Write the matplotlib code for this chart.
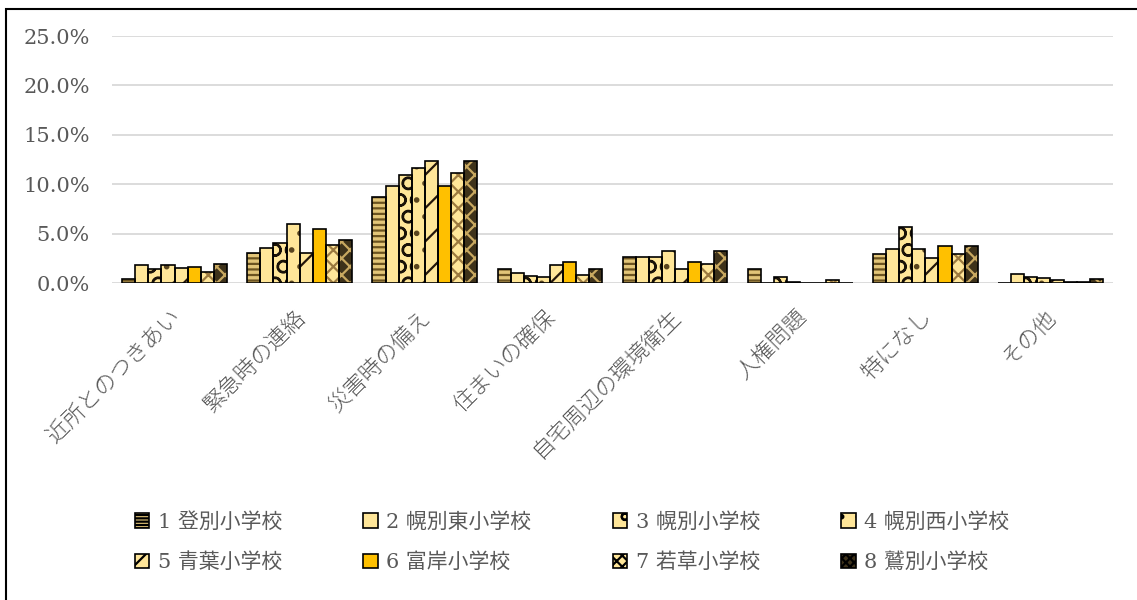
import matplotlib
matplotlib.use("Agg")
import matplotlib.pyplot as plt
import numpy as np
from matplotlib.patches import Rectangle, Patch

categories = ["近所とのつきあい", "緊急時の連絡", "災害時の備え", "住まいの確保",
              "自宅周辺の環境衛生", "人権問題", "特になし", "その他"]
schools = ["1 登別小学校", "2 幌別東小学校", "3 幌別小学校", "4 幌別西小学校",
           "5 青葉小学校", "6 富岸小学校", "7 若草小学校", "8 鷲別小学校"]

s1 = [0.4, 3.1, 8.7, 1.4, 2.7, 1.4, 3.0, 0.0]
s2 = [1.9, 3.6, 9.8, 1.0, 2.7, 0.0, 3.5, 0.9]
s3 = [1.4, 4.1, 10.9, 0.7, 2.7, 0.6, 5.7, 0.6]
s4 = [1.9, 6.0, 11.7, 0.6, 3.3, 0.1, 3.5, 0.5]
s5 = [1.5, 3.1, 12.4, 1.9, 1.4, 0.0, 2.6, 0.3]
s6 = [1.6, 5.5, 9.8, 2.2, 2.2, 0.0, 3.8, 0.1]
s7 = [1.1, 3.9, 11.1, 0.8, 2.0, 0.3, 3.0, 0.1]
s8 = [2.0, 4.4, 12.4, 1.4, 3.3, 0.0, 3.8, 0.4]
series = [s1, s2, s3, s4, s5, s6, s7, s8]
yticks = [0, 5, 10, 15, 20, 25]
ytick_labels = ["0.0%", "5.0%", "10.0%", "15.0%", "20.0%", "25.0%"]

styles = [
    dict(face="#E2C578", hatchc="#6B5320", hatch="---"),
    dict(face="#FFE699", hatchc="#FFE699", hatch=None),
    dict(face="#FFE699", hatchc="#1a1208", hatch="O"),
    dict(face="#FFE699", hatchc="#5a4520", hatch="."),
    dict(face="#FFE699", hatchc="#24160a", hatch="/"),
    dict(face="#FFC000", hatchc="#FFC000", hatch=None),
    dict(face="#FFE699", hatchc="#9C7A40", hatch="xx"),
    dict(face="#3E321A", hatchc="#C8A860", hatch="xx"),
]
legend_hatches = ["-----", None, "o", ".", "//", None, "xxx", "xxxx"]

plt.rcParams['hatch.linewidth'] = 1.6
fig = plt.figure(figsize=(11.37, 6.0), dpi=100)
ax = fig.add_axes([112/1137, 1-283.3/600, (1113-112)/1137, (283.3-36)/600])

x = np.arange(len(categories))
w = 0.1047
n = len(series)
for i, (vals, st) in enumerate(zip(series, styles)):
    pos = x + (i - (n-1)/2) * w
    ax.bar(pos, vals, width=w, color=st["face"], edgecolor=st["hatchc"],
           hatch=st["hatch"], linewidth=0, zorder=3)
    ax.bar(pos, vals, width=w, facecolor="none", edgecolor="black",
           linewidth=1.2, zorder=4)

ax.set_xlim(-0.5, 7.5)
ax.set_ylim(0, 25)
ax.set_yticks(yticks)
ax.set_yticklabels(ytick_labels, family="DejaVu Serif", fontsize=15, color="#595959")
ax.tick_params(axis="y", length=0, pad=16)
ax.tick_params(axis="x", length=0)
ax.grid(axis="y", color="#D9D9D9", linewidth=1.3, zorder=0)
for s in ax.spines.values():
    s.set_visible(False)
ax.set_xticks(x)
ax.set_xticklabels([])
for xi, c in zip(x, categories):
    ax.annotate(c, xy=(xi, 0), xycoords="data", xytext=(2, -22),
                textcoords="offset points", rotation=45, ha="right", va="center",
                rotation_mode="anchor", fontsize=16, color="#595959",
                family=["Noto Sans CJK JP", "DejaVu Sans"], fontweight="light")

handles = [Patch(facecolor=st["face"], edgecolor="black", hatch=lh, linewidth=1.2)
           for st, lh in zip(styles, legend_hatches)]
order = [0, 4, 1, 5, 2, 6, 3, 7]
leg = fig.legend([handles[k] for k in order], [schools[k] for k in order],
                 ncol=4, loc="center", bbox_to_anchor=(572/1137, 1-542/600),
                 frameon=False, handlelength=0.7, handleheight=0.7,
                 handletextpad=0.4, columnspacing=3.9, labelspacing=1.0,
                 prop=dict(family=["DejaVu Serif", "Noto Sans CJK JP"], size=15))
for t in leg.get_texts():
    t.set_color("#595959")

fig.patches.append(Rectangle((6/1137, -0.05), 1.2, 1.05 - 9/600, transform=fig.transFigure,
                             fill=False, edgecolor="black", linewidth=1.5))
fig.savefig("out.png", dpi=100)
